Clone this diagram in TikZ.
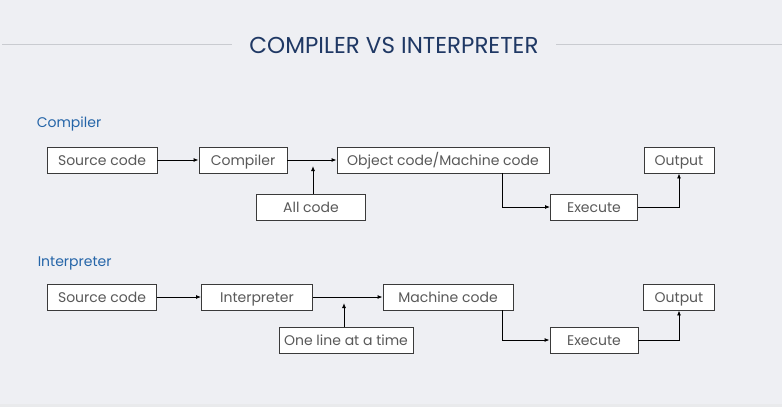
\documentclass[tikz,border=0pt]{standalone}
\usepackage{fontspec}
\setmainfont{Poppins}
\usetikzlibrary{arrows.meta, positioning}
\definecolor{cbg}{HTML}{EEEFF3}
\definecolor{cnavy}{HTML}{1F3864}
\definecolor{cblue}{HTML}{2565A8}
\definecolor{ctext}{HTML}{595959}
\definecolor{cline}{HTML}{C9CBD0}
\definecolor{cedge}{HTML}{3A3A3A}
\tikzset{
  every picture/.style={line width=0.9pt},
  box/.style={draw=cedge, fill=white, text=ctext, inner sep=0pt, minimum height=26pt, minimum width=#1,
    text height=12pt, text depth=2pt, font=\fontsize{14}{16}\selectfont},
  box/.default=100pt,
  arrow/.style={-{Latex[length=5pt, width=4pt]}, draw=black},
  title/.style={font=\fontsize{23}{26}\selectfont, text=cnavy},
  hd/.style={font=\fontsize{14}{16}\selectfont, text=cblue, anchor=west},
}

\begin{document}
\begin{tikzpicture}[x=1pt, y=-1pt]
  \fill[cbg] (0,0) rectangle (782,407);
  \useasboundingbox (0,0) rectangle (782,407);
  \fill[cline!40] (0,404) rectangle (782,407);
  % title
  \node[title] (head) at (394,45) {COMPILER VS INTERPRETER};
  \coordinate (hl) at (2,44);
  \coordinate (hr) at (782,44);
  \draw[cline, line width=0.8pt] (hl) -- ([xshift=-14pt]head.west |- hl);
  \draw[cline, line width=0.8pt] ([xshift=14pt]head.east |- hr) -- (hr);
  % compiler
  \node[hd] (chd) at (33,124) {Compiler};
  \node[box=110pt] (csrc) at (102,160) {Source code};
  \node[box=88pt] (ccomp) at (243,160) {Compiler};
  \node[box=212pt] (cobj) at (443,160) {Object code/Machine code};
  \node[box=109pt] (call) at (311,207) {All code};
  \node[box=87pt] (cexe) at (594,207) {Execute};
  \node[box=70pt] (cout) at (679,160) {Output};
  \coordinate (cjoin) at (313,166);
  \draw[arrow] (csrc) -- (ccomp);
  \draw[arrow] (ccomp) -- (cobj);
  \draw[arrow] (call.north -| cjoin) -- (cjoin);
  \draw[arrow] ([xshift=59pt]cobj.south) |- (cexe);
  \draw[arrow] (cexe) -| (cout);
  % interpreter
  \node[hd] (ihd) at (34,263) {Interpreter};
  \node[box=109pt] (isrc) at (102,297) {Source code};
  \node[box=111pt] (iint) at (257,297) {Interpreter};
  \node[box=130pt] (imach) at (448,297) {Machine code};
  \node[box=134pt] (iline) at (346,340) {One line at a time};
  \node[box=88pt] (iexe) at (594,340) {Execute};
  \node[box=71pt] (iout) at (679,297) {Output};
  \coordinate (ijoin) at (344,303);
  \draw[arrow] (isrc) -- (iint);
  \draw[arrow] (iint) -- (imach);
  \draw[arrow] (iline.north -| ijoin) -- (ijoin);
  \draw[arrow] ([xshift=54pt]imach.south) |- (iexe);
  \draw[arrow] (iexe) -| (iout);
\end{tikzpicture}
\end{document}
